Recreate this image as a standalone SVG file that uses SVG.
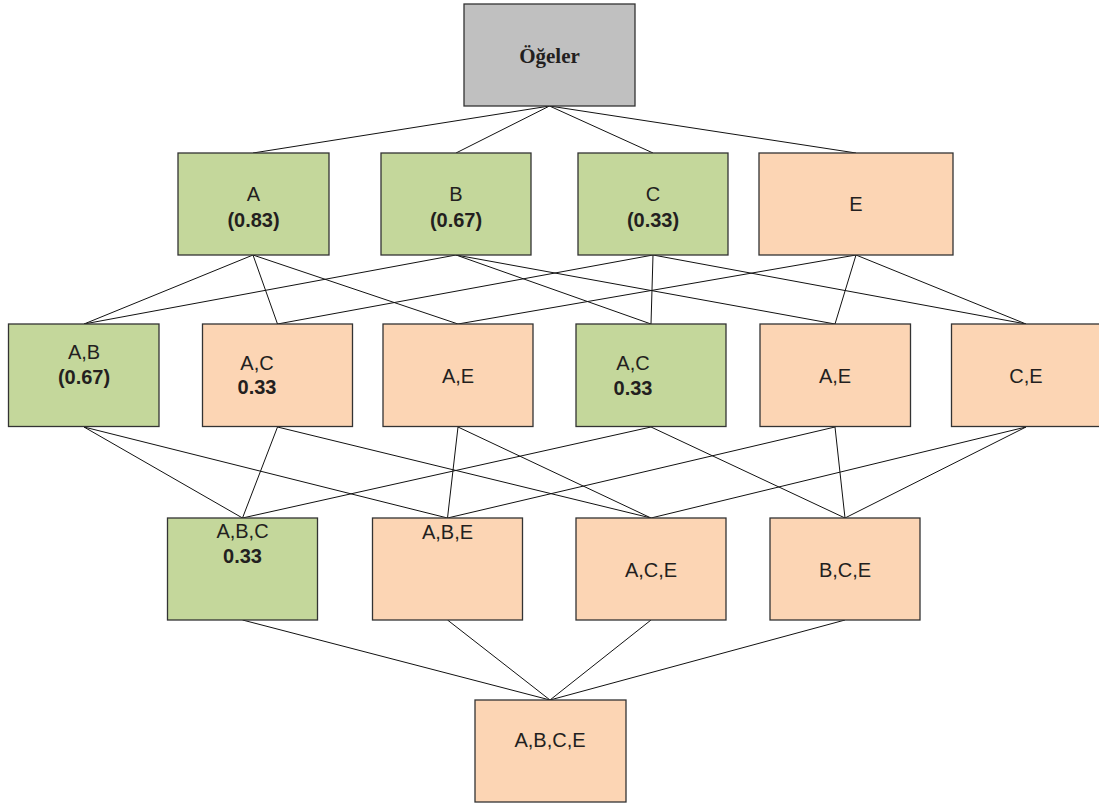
<svg xmlns="http://www.w3.org/2000/svg" width="1099" height="807" viewBox="0 0 1099 807">
<style>
.box{stroke:#333;stroke-width:1.3}
.g{fill:#c4d79b}
.p{fill:#fcd5b4}
.gr{fill:#c0c0c0}
text{font-family:"Liberation Sans",Arial,sans-serif;font-size:20px;fill:#231f20;text-anchor:middle}
.b{font-weight:bold}
.ser{font-family:"Liberation Serif","Times New Roman",serif;font-weight:bold;font-size:21px}
#connectors line{stroke:#111;stroke-width:1}
</style>
<rect width="1099" height="807" fill="#fff"/>
<g id="connectors">
<line x1="549.5" y1="106" x2="253" y2="153"/>
<line x1="549.5" y1="106" x2="456" y2="153"/>
<line x1="549.5" y1="106" x2="653" y2="153"/>
<line x1="549.5" y1="106" x2="856" y2="153"/>
<line x1="253" y1="255" x2="84" y2="324"/>
<line x1="253" y1="255" x2="277.5" y2="324"/>
<line x1="253" y1="255" x2="458" y2="324"/>
<line x1="456" y1="255" x2="84" y2="324"/>
<line x1="456" y1="255" x2="651" y2="324"/>
<line x1="456" y1="255" x2="835" y2="324"/>
<line x1="653" y1="255" x2="277.5" y2="324"/>
<line x1="653" y1="255" x2="651" y2="324"/>
<line x1="653" y1="255" x2="1026" y2="324"/>
<line x1="856" y1="255" x2="458" y2="324"/>
<line x1="856" y1="255" x2="835" y2="324"/>
<line x1="856" y1="255" x2="1026" y2="324"/>
<line x1="84" y1="427" x2="242.5" y2="518"/>
<line x1="84" y1="427" x2="447.5" y2="518"/>
<line x1="277.5" y1="427" x2="242.5" y2="518"/>
<line x1="277.5" y1="427" x2="651" y2="518"/>
<line x1="458" y1="427" x2="447.5" y2="518"/>
<line x1="458" y1="427" x2="651" y2="518"/>
<line x1="651" y1="427" x2="242.5" y2="518"/>
<line x1="651" y1="427" x2="845" y2="518"/>
<line x1="835" y1="427" x2="447.5" y2="518"/>
<line x1="835" y1="427" x2="845" y2="518"/>
<line x1="1026" y1="427" x2="651" y2="518"/>
<line x1="1026" y1="427" x2="845" y2="518"/>
<line x1="242.5" y1="620" x2="550" y2="700"/>
<line x1="447.5" y1="620" x2="550" y2="700"/>
<line x1="651" y1="620" x2="550" y2="700"/>
<line x1="845" y1="620" x2="550" y2="700"/>
</g>
<g id="n-ogeler"><rect class="box gr" x="464" y="4" width="171" height="102"/><text class="ser" x="549.5" y="63">Öğeler</text></g>
<g id="n-A"><rect class="box g" x="178" y="153" width="151" height="102"/><text x="253.5" y="201">A</text><text class="b" x="253.5" y="227">(0.83)</text></g>
<g id="n-B"><rect class="box g" x="381" y="153" width="150" height="102"/><text x="456" y="201">B</text><text class="b" x="456" y="227">(0.67)</text></g>
<g id="n-C"><rect class="box g" x="578" y="153" width="150" height="102"/><text x="653" y="201">C</text><text class="b" x="653" y="227">(0.33)</text></g>
<g id="n-E"><rect class="box p" x="759" y="153" width="194" height="102"/><text x="856" y="211">E</text></g>
<g id="n-AB"><rect class="box g" x="8.5" y="324" width="150.5" height="102.5"/><text x="84" y="359">A,B</text><text class="b" x="84" y="384">(0.67)</text></g>
<g id="n-AC1"><rect class="box p" x="202.5" y="324" width="150" height="102.5"/><text x="257" y="370">A,C</text><text class="b" x="257" y="394">0.33</text></g>
<g id="n-AE1"><rect class="box p" x="383" y="324" width="150" height="102.5"/><text x="458" y="383">A,E</text></g>
<g id="n-AC2"><rect class="box g" x="576" y="324" width="150" height="102.5"/><text x="633" y="370">A,C</text><text class="b" x="633" y="395">0.33</text></g>
<g id="n-AE2"><rect class="box p" x="760" y="324" width="150.5" height="102.5"/><text x="835" y="383">A,E</text></g>
<g id="n-CE"><rect class="box p" x="951.5" y="324" width="151" height="102.5"/><text x="1026" y="383">C,E</text></g>
<g id="n-ABC"><rect class="box g" x="167.5" y="518" width="150" height="102"/><text x="242.5" y="538">A,B,C</text><text class="b" x="242.5" y="563">0.33</text></g>
<g id="n-ABE"><rect class="box p" x="372.5" y="518" width="150" height="102"/><text x="447.5" y="539">A,B,E</text></g>
<g id="n-ACE"><rect class="box p" x="576" y="518" width="150" height="102"/><text x="651" y="577">A,C,E</text></g>
<g id="n-BCE"><rect class="box p" x="770" y="518" width="150" height="102"/><text x="845" y="577">B,C,E</text></g>
<g id="n-ABCE"><rect class="box p" x="475" y="700" width="151" height="102"/><text x="550" y="747">A,B,C,E</text></g>
</svg>
